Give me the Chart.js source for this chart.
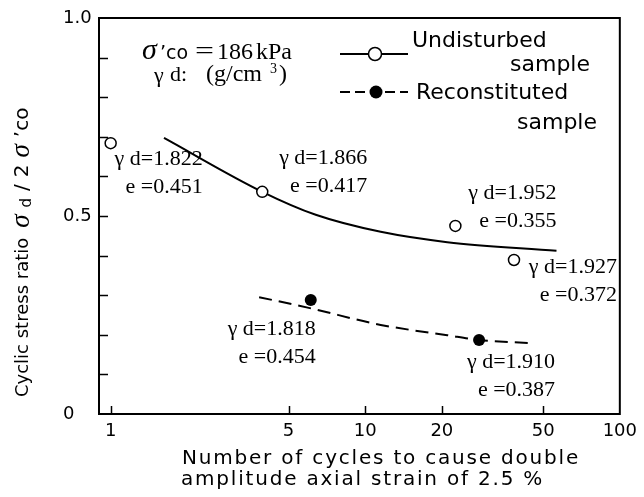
<!DOCTYPE html>
<html>
<head>
<meta charset="utf-8">
<script src="https://cdn.jsdelivr.net/npm/chart.js@4.4.0/dist/chart.umd.min.js"></script>
<style>
  html, body { margin: 0; padding: 0; background: #fff; }
  canvas { display: block; }
</style>
</head>
<body>
<canvas id="chart01" width="644" height="497"></canvas>
<script>
// undisturbed samples (open circles)
var undisturbedN = [1.0, 3.94, 22.6, 38.4]
var undisturbedRatio = [0.684, 0.561, 0.475, 0.389]
var undisturbedGammaD = [1.822, 1.866, 1.952, 1.927]
var undisturbedE = [0.451, 0.417, 0.355, 0.372]

// reconstituted samples (filled circles)
var reconN = [6.11, 28.0]
var reconRatio = [0.288, 0.187]
var reconGammaD = [1.818, 1.910]
var reconE = [0.454, 0.387]

// fitted curves
var undisturbedFitN = [1.62, 3.94, 6.39, 11.5, 21.0, 56.4]
var undisturbedFitRatio = [0.697, 0.561, 0.503, 0.460, 0.434, 0.412]
var reconFitN = [3.83, 6.0, 11.5, 21.0, 28.0, 44.3]
var reconFitRatio = [0.295, 0.268, 0.225, 0.199, 0.187, 0.179]

// axes
var xTicks = [1, 5, 10, 20, 50, 100]
var yTicks = [0, 0.5, 1.0]
var yMinor = [0.1, 0.2, 0.3, 0.4, 0.5, 0.6, 0.7, 0.8, 0.9]

// label placement next to each point: [dx to right edge, dy to first line]
var undisturbedLabelPos = [[92, 16], [105, -34], [101, -33], [103, 7]]
var reconLabelPos = [[5, 29], [76, 22]]

var SANS = '"DejaVu Sans", sans-serif'
var SERIF = '"Liberation Serif", "Times New Roman", serif'

function pts (xs, ys) {
  return xs.map(function (x, i) { return { x: x, y: ys[i] } })
}

// draw a run of [text, font, dy] pieces, returns end x
function drawRun (ctx, segs, x, y, gap) {
  segs.forEach(function (s) {
    ctx.font = s[1]
    ctx.fillText(s[0], x, y + (s[2] || 0))
    x += ctx.measureText(s[0]).width + (gap || 0)
  })
  return x
}

var framePlugin = {
  id: 'frame',
  beforeDraw: function (chart) {
    var ctx = chart.ctx
    ctx.save()
    ctx.fillStyle = '#fff'
    ctx.fillRect(0, 0, chart.width, chart.height)
    ctx.restore()
  },
  afterDraw: function (chart) {
    var a = chart.chartArea
    var ctx = chart.ctx
    var xs = chart.scales.x
    var ys = chart.scales.y
    ctx.save()
    ctx.strokeStyle = '#000'
    ctx.lineWidth = 2
    ctx.strokeRect(a.left, a.top, a.right - a.left, a.bottom - a.top)

    // inward tick marks
    ctx.lineWidth = 1.5
    ctx.beginPath()
    xTicks.forEach(function (v) {
      if (v >= 100) return
      var px = Math.round(xs.getPixelForValue(v)) + 0.5
      ctx.moveTo(px, a.bottom)
      ctx.lineTo(px, a.bottom - 8)
    })
    yMinor.forEach(function (v) {
      var py = Math.round(ys.getPixelForValue(v)) + 0.5
      ctx.moveTo(a.left, py)
      ctx.lineTo(a.left + 9, py)
    })
    ctx.stroke()
    ctx.restore()
  }
}

var textPlugin = {
  id: 'texts',
  afterDraw: function (chart) {
    var ctx = chart.ctx
    ctx.save()
    ctx.fillStyle = '#000'
    ctx.textBaseline = 'middle'

    // point labels
    ctx.textAlign = 'right'
    ctx.font = '22px ' + SERIF
    var m0 = chart.getDatasetMeta(0).data
    undisturbedGammaD.forEach(function (g, i) {
      var p = m0[i]
      var o = undisturbedLabelPos[i]
      ctx.fillText('γ d=' + g.toFixed(3), p.x + o[0], p.y + o[1])
      ctx.fillText('e =' + undisturbedE[i].toFixed(3), p.x + o[0], p.y + o[1] + 28)
    })
    var m1 = chart.getDatasetMeta(1).data
    reconGammaD.forEach(function (g, i) {
      var p = m1[i]
      var o = reconLabelPos[i]
      ctx.fillText('γ d=' + g.toFixed(3), p.x + o[0], p.y + o[1])
      ctx.fillText('e =' + reconE[i].toFixed(3), p.x + o[0], p.y + o[1] + 28)
    })

    // header note
    ctx.textAlign = 'left'
    ctx.font = 'italic 30px ' + SERIF
    ctx.fillText('σ', 142, 51)
    ctx.font = '19px ' + SANS
    ctx.fillText('\u2019co', 160, 54)
    ctx.font = '24px ' + SERIF
    ctx.save()
    ctx.translate(195, 52)
    ctx.scale(1.4, 1)
    ctx.fillText('=', 0, 0)
    ctx.restore()
    ctx.fillText('186', 217, 53)
    ctx.fillText('kPa', 256, 53)
    ctx.font = '22px ' + SERIF
    ctx.fillText('γ', 154, 76)
    ctx.fillText('d:', 170, 75)
    ctx.font = '24px ' + SERIF
    ctx.fillText('(g/cm', 206, 75)
    ctx.font = '14px ' + SERIF
    ctx.fillText('3', 270, 69)
    ctx.font = '24px ' + SERIF
    ctx.fillText(')', 279, 75)

    // legend
    ctx.strokeStyle = '#000'
    ctx.lineWidth = 2
    ctx.beginPath()
    ctx.moveTo(340, 54); ctx.lineTo(408, 54)
    ctx.stroke()
    ctx.fillStyle = '#fff'
    ctx.lineWidth = 1.5
    ctx.beginPath(); ctx.arc(375, 54, 6.5, 0, Math.PI * 2); ctx.fill(); ctx.stroke()
    ctx.lineWidth = 2
    ctx.setLineDash([10, 5])
    ctx.beginPath()
    ctx.moveTo(340, 92); ctx.lineTo(408, 92)
    ctx.stroke()
    ctx.setLineDash([])
    ctx.fillStyle = '#000'
    ctx.beginPath(); ctx.arc(376, 92, 6.5, 0, Math.PI * 2); ctx.fill()

    ctx.font = '22px ' + SANS
    ctx.fillText('Undisturbed', 412, 41)
    ctx.fillText('Reconstituted', 416, 93)
    ctx.textAlign = 'right'
    ctx.fillText('sample', 590, 65)
    ctx.fillText('sample', 597, 123)

    // x title
    ctx.textAlign = 'left'
    ctx.font = '20px ' + SANS
    ctx.letterSpacing = '1.8px'
    ctx.fillText('Number of cycles to cause double', 182, 459)
    ctx.fillText('amplitude axial strain of 2.5 %', 181, 480)
    ctx.letterSpacing = '0px'

    // y title, rotated
    ctx.translate(23, 0)
    ctx.rotate(-Math.PI / 2)
    var x = drawRun(ctx, [['Cyclic stress ratio', '18px ' + SANS]], -397, 0)
    drawRun(ctx, [
      ['σ', 'italic 27px ' + SERIF, -1],
      ['d', '15px ' + SANS, 4],
      ['/', '20px ' + SANS],
      ['2', '20px ' + SANS],
      ['σ', 'italic 27px ' + SERIF, -1],
      ['\u2019co', '20px ' + SANS]
    ], x + 10, 0, 7)
    ctx.restore()
  }
}

var ctx = document.getElementById('chart01').getContext('2d')

var chart = new Chart(ctx, {
  type: 'scatter',
  data: {
    datasets: [{
      label: 'Undisturbed sample',
      data: pts(undisturbedN, undisturbedRatio),
      pointRadius: 5.5,
      pointBackgroundColor: '#fff',
      pointBorderColor: '#000',
      pointBorderWidth: 1.5,
      showLine: false
    }, {
      label: 'Reconstituted sample',
      data: pts(reconN, reconRatio),
      pointRadius: 6,
      pointBackgroundColor: '#000',
      pointBorderColor: '#000',
      pointBorderWidth: 0,
      showLine: false
    }, {
      label: 'Undisturbed fit',
      data: pts(undisturbedFitN, undisturbedFitRatio),
      showLine: true,
      pointRadius: 0,
      borderColor: '#000',
      borderWidth: 2,
      cubicInterpolationMode: 'monotone'
    }, {
      label: 'Reconstituted fit',
      data: pts(reconFitN, reconFitRatio),
      showLine: true,
      pointRadius: 0,
      borderColor: '#000',
      borderWidth: 2,
      borderDash: [13, 7],
      cubicInterpolationMode: 'monotone'
    }]
  },
  options: {
    responsive: false,
    animation: false,
    layout: { padding: { left: 63, right: 20, top: 18, bottom: 0 } },
    plugins: {
      legend: { display: false },
      tooltip: { enabled: false }
    },
    scales: {
      x: {
        type: 'logarithmic',
        min: 0.9,
        max: 100,
        afterBuildTicks: function (s) {
          s.ticks = xTicks.map(function (v) { return { value: v } })
        },
        afterFit: function (s) { s.height = 83 },
        ticks: {
          color: '#000',
          font: { family: 'DejaVu Sans', size: 18 },
          padding: 7,
          maxRotation: 0,
          autoSkip: false,
          callback: function (v) { return String(v) }
        },
        grid: { drawOnChartArea: false, drawTicks: false },
        border: { display: false }
      },
      y: {
        min: 0,
        max: 1,
        afterBuildTicks: function (s) {
          s.ticks = yTicks.map(function (v) { return { value: v } })
        },
        afterFit: function (s) { s.width = 36 },
        ticks: {
          color: '#000',
          font: { family: 'DejaVu Sans', size: 18 },
          crossAlign: 'far',
          padding: 0,
          callback: function (v) { return v === 0 ? '0' : v.toFixed(1) }
        },
        grid: { drawOnChartArea: false, drawTicks: false },
        border: { display: false }
      }
    }
  },
  plugins: [framePlugin, textPlugin]
})
</script>
</body>
</html>
